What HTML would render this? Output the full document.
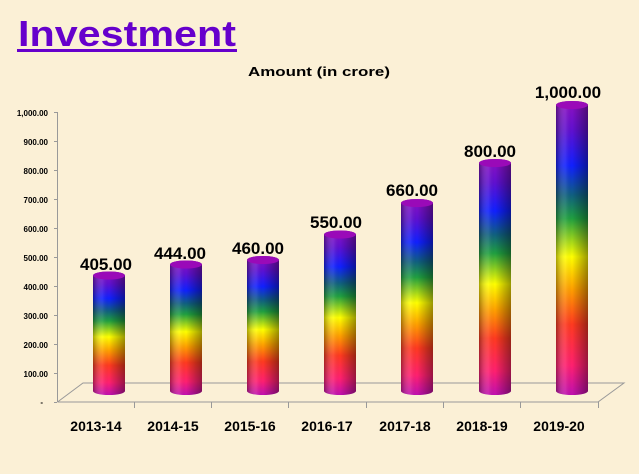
<!DOCTYPE html>
<html><head><meta charset="utf-8"><style>
html,body{margin:0;padding:0;background:#fbf0d6;}
svg{display:block;font-family:"Liberation Sans",Arial,sans-serif;}
</style></head><body>
<svg width="639" height="474" viewBox="0 0 639 474">
<defs>
<linearGradient id="rb" x1="0" y1="1" x2="0" y2="0">
<stop offset="0" stop-color="#c010b0"/>
<stop offset="0.1" stop-color="#ff2070"/>
<stop offset="0.24" stop-color="#ff3a20"/>
<stop offset="0.36" stop-color="#ffa000"/>
<stop offset="0.47" stop-color="#ffff00"/>
<stop offset="0.6" stop-color="#20a040"/>
<stop offset="0.68" stop-color="#106080"/>
<stop offset="0.78" stop-color="#1020ff"/>
<stop offset="0.9" stop-color="#6010d0"/>
<stop offset="1" stop-color="#9010c0"/>
</linearGradient>
<linearGradient id="sh" x1="0" y1="0" x2="1" y2="0">
<stop offset="0" stop-color="#000" stop-opacity="0.35"/>
<stop offset="0.3" stop-color="#fff" stop-opacity="0.1"/>
<stop offset="0.5" stop-color="#000" stop-opacity="0"/>
<stop offset="1" stop-color="#000" stop-opacity="0.4"/>
</linearGradient>
</defs>
<rect width="639" height="474" fill="#fbf0d6"/>
<text x="18" y="46" font-size="36" font-weight="bold" fill="#6600cc" textLength="218" lengthAdjust="spacingAndGlyphs">Investment</text>
<rect x="17" y="49" width="220" height="3" fill="#6600cc"/>
<text x="248" y="76" font-size="13" font-weight="bold" fill="#000" textLength="142" lengthAdjust="spacingAndGlyphs">Amount (in crore)</text>
<g stroke="#999" stroke-width="1" fill="none">
<line x1="57.5" y1="112" x2="57.5" y2="402"/>
<polyline points="57.5,402 83,383 624,383 598,402 57.5,402"/>
<line x1="134.5" y1="402" x2="134.5" y2="408"/><line x1="211.5" y1="402" x2="211.5" y2="408"/><line x1="288.5" y1="402" x2="288.5" y2="408"/><line x1="366.5" y1="402" x2="366.5" y2="408"/><line x1="443.5" y1="402" x2="443.5" y2="408"/><line x1="520.5" y1="402" x2="520.5" y2="408"/><line x1="598.5" y1="402" x2="598.5" y2="408"/>
<line x1="54" y1="112.5" x2="57" y2="112.5"/><line x1="54" y1="141.5" x2="57" y2="141.5"/><line x1="54" y1="170.5" x2="57" y2="170.5"/><line x1="54" y1="199.5" x2="57" y2="199.5"/><line x1="54" y1="228.5" x2="57" y2="228.5"/><line x1="54" y1="257.5" x2="57" y2="257.5"/><line x1="54" y1="286.5" x2="57" y2="286.5"/><line x1="54" y1="315.5" x2="57" y2="315.5"/><line x1="54" y1="344.5" x2="57" y2="344.5"/><line x1="54" y1="373.5" x2="57" y2="373.5"/><line x1="54" y1="402.5" x2="57" y2="402.5"/>
</g>
<g font-size="8" font-weight="bold" fill="#000" text-anchor="end">
<text x="48" y="116">1,000.00</text><text x="48" y="145">900.00</text><text x="48" y="174">800.00</text><text x="48" y="203">700.00</text><text x="48" y="232">600.00</text><text x="48" y="261">500.00</text><text x="48" y="290">400.00</text><text x="48" y="319">300.00</text><text x="48" y="348">200.00</text><text x="48" y="377">100.00</text><text x="43" y="405">-</text>
</g>
<g id="bars"></g>
<g font-size="14" font-weight="bold" fill="#000" text-anchor="middle">
<text x="96" y="431">2013-14</text><text x="173" y="431">2014-15</text><text x="250" y="431">2015-16</text><text x="327" y="431">2016-17</text><text x="405" y="431">2017-18</text><text x="482" y="431">2018-19</text><text x="559" y="431">2019-20</text>
</g>
<g font-size="17" font-weight="bold" fill="#000" text-anchor="middle">
<!-- bars -->
<g>
<path d="M93,391 L93,275.5 A16,4 0 0 1 125,275.5 L125,391 A16,4 0 0 1 93,391Z" fill="url(#rb)"/>
<path d="M93,391 L93,275.5 A16,4 0 0 1 125,275.5 L125,391 A16,4 0 0 1 93,391Z" fill="url(#sh)"/>
<ellipse cx="109" cy="275.5" rx="16" ry="4" fill="#9a0ab8"/>
<text x="106" y="270">405.00</text>
</g>
<g>
<path d="M170,391 L170,264.5 A16,4 0 0 1 202,264.5 L202,391 A16,4 0 0 1 170,391Z" fill="url(#rb)"/>
<path d="M170,391 L170,264.5 A16,4 0 0 1 202,264.5 L202,391 A16,4 0 0 1 170,391Z" fill="url(#sh)"/>
<ellipse cx="186" cy="264.5" rx="16" ry="4" fill="#9a0ab8"/>
<text x="180" y="259">444.00</text>
</g>
<g>
<path d="M247,391 L247,260 A16,4 0 0 1 279,260 L279,391 A16,4 0 0 1 247,391Z" fill="url(#rb)"/>
<path d="M247,391 L247,260 A16,4 0 0 1 279,260 L279,391 A16,4 0 0 1 247,391Z" fill="url(#sh)"/>
<ellipse cx="263" cy="260" rx="16" ry="4" fill="#9a0ab8"/>
<text x="258" y="254">460.00</text>
</g>
<g>
<path d="M324,391 L324,234.5 A16,4 0 0 1 356,234.5 L356,391 A16,4 0 0 1 324,391Z" fill="url(#rb)"/>
<path d="M324,391 L324,234.5 A16,4 0 0 1 356,234.5 L356,391 A16,4 0 0 1 324,391Z" fill="url(#sh)"/>
<ellipse cx="340" cy="234.5" rx="16" ry="4" fill="#9a0ab8"/>
<text x="336" y="228">550.00</text>
</g>
<g>
<path d="M401,391 L401,203 A16,4 0 0 1 433,203 L433,391 A16,4 0 0 1 401,391Z" fill="url(#rb)"/>
<path d="M401,391 L401,203 A16,4 0 0 1 433,203 L433,391 A16,4 0 0 1 401,391Z" fill="url(#sh)"/>
<ellipse cx="417" cy="203" rx="16" ry="4" fill="#9a0ab8"/>
<text x="412" y="196">660.00</text>
</g>
<g>
<path d="M479,391 L479,163 A16,4 0 0 1 511,163 L511,391 A16,4 0 0 1 479,391Z" fill="url(#rb)"/>
<path d="M479,391 L479,163 A16,4 0 0 1 511,163 L511,391 A16,4 0 0 1 479,391Z" fill="url(#sh)"/>
<ellipse cx="495" cy="163" rx="16" ry="4" fill="#9a0ab8"/>
<text x="490" y="157">800.00</text>
</g>
<g>
<path d="M556,391 L556,105 A16,4 0 0 1 588,105 L588,391 A16,4 0 0 1 556,391Z" fill="url(#rb)"/>
<path d="M556,391 L556,105 A16,4 0 0 1 588,105 L588,391 A16,4 0 0 1 556,391Z" fill="url(#sh)"/>
<ellipse cx="572" cy="105" rx="16" ry="4" fill="#9a0ab8"/>
<text x="568" y="98">1,000.00</text>
</g>
</g>
</svg>
</body></html>
